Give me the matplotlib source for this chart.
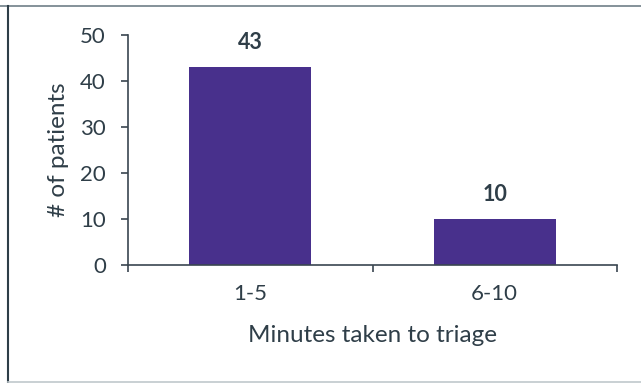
import matplotlib
matplotlib.use("Agg")
import matplotlib.pyplot as plt
from matplotlib.ticker import FixedLocator, NullFormatter
from matplotlib.lines import Line2D

categories = ["1-5", "6-10"]
values = [43, 10]
yticks = [0, 10, 20, 30, 40, 50]

text_color = "#2F3E48"
bar_color = "#48308C"
spine_color = "#3A4650"

plt.rcParams['font.family'] = ['Lato', 'DejaVu Sans']

fig = plt.figure(figsize=(6.41, 3.83), dpi=100)
ax = fig.add_axes([128/641, 1-265/383, (617-128)/641, (265-35)/383])

x = list(range(len(categories)))
ax.bar(x, values, width=0.5, color=bar_color, zorder=2)

for xi, v in zip(x, values):
    ax.annotate(str(v), (xi, v), xytext=(0, 17.5), textcoords="offset points",
                ha="center", va="center", fontsize=15.5, fontweight="bold",
                color=text_color)

ax.set_xlim(-0.5, len(categories) - 0.5)
ax.set_ylim(0, 50)
ax.set_yticks(yticks)
ax.xaxis.set_major_locator(FixedLocator([-0.5, 0.5, 1.5]))
ax.xaxis.set_major_formatter(NullFormatter())
ax.xaxis.set_minor_locator(FixedLocator(x))
ax.set_xticklabels(categories, minor=True)
ax.tick_params(axis="x", which="major", length=5, width=1.2, color=spine_color, direction="out")
ax.tick_params(axis="x", which="minor", length=0, pad=14, labelsize=16, labelcolor=text_color)
ax.tick_params(axis="y", length=5, width=1.2, color=spine_color, direction="out",
               labelsize=16, labelcolor=text_color, pad=11)

for s in ["top", "right"]:
    ax.spines[s].set_visible(False)
for s in ["left", "bottom"]:
    ax.spines[s].set_color(spine_color)
    ax.spines[s].set_linewidth(1.2)

ax.set_xlabel("Minutes taken to triage", fontsize=17.5, color=text_color, labelpad=15)
ax.set_ylabel("# of patients", fontsize=17.5, color=text_color, labelpad=8)

# outer frame
fig.add_artist(Line2D([0.0, 1.0], [1-6/383, 1-6/383], transform=fig.transFigure,
                      color="#6F7F88", linewidth=1.2))
fig.add_artist(Line2D([8/641, 8/641], [1-382/383, 1-6/383], transform=fig.transFigure,
                      color="#2E3E48", linewidth=1.5))
fig.add_artist(Line2D([8/641, 1.0], [1-381.5/383, 1-381.5/383], transform=fig.transFigure,
                      color="#C0C8CC", linewidth=1.2))

fig.savefig("out.png", dpi=100)
